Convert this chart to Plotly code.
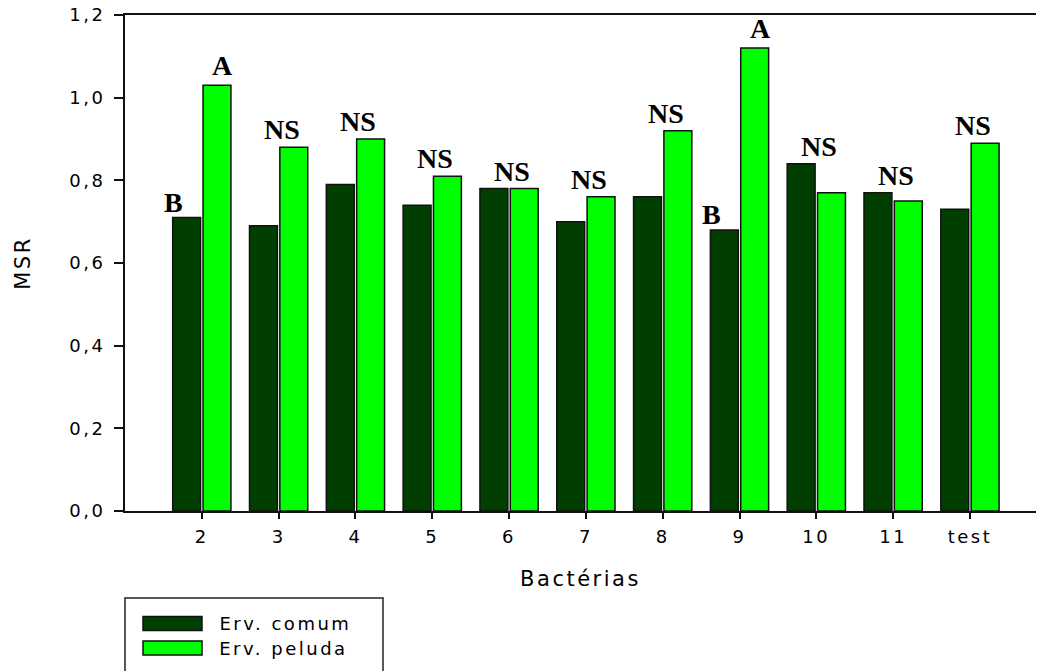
import plotly.graph_objects as go

categories = ["2", "3", "4", "5", "6", "7", "8", "9", "10", "11", "test"]
erv_comum = [0.71, 0.69, 0.79, 0.74, 0.78, 0.70, 0.76, 0.68, 0.84, 0.77, 0.73]
erv_peluda = [1.03, 0.88, 0.90, 0.81, 0.78, 0.76, 0.92, 1.12, 0.77, 0.75, 0.89]
series_names = ["Erv. comum", "Erv. peluda"]
series_colors = ["#003F00", "#00FF00"]
sig_group = ["", "NS", "NS", "NS", "NS", "NS", "NS", "", "NS", "NS", "NS"]
sig_comum = ["B", "", "", "", "", "", "", "B", "", "", ""]
sig_peluda = ["A", "", "", "", "", "", "", "A", "", "", ""]
y_ticks = [0.0, 0.2, 0.4, 0.6, 0.8, 1.0, 1.2]

xpos = list(range(len(categories)))
W, H = 1037, 671
ML, MR, MT, MB = 125, 1, 15, 160
SANS = "DejaVu Sans, Arial, sans-serif"
SPACING = 2.5

fig = go.Figure()
for name, vals, col in zip(series_names, [erv_comum, erv_peluda], series_colors):
    fig.add_trace(go.Bar(x=xpos, y=vals, name=name, marker=dict(color=col, line=dict(color="#111111", width=1.5)),
                         showlegend=False))

afont = dict(family="Liberation Serif, Times New Roman, serif", size=28, color="black")
for i in xpos:
    if sig_group[i]:
        fig.add_annotation(x=i, y=max(erv_comum[i], erv_peluda[i]), text="<b>%s</b>" % sig_group[i],
                           showarrow=False, yanchor="bottom", xshift=3, yshift=0, font=afont)
    if sig_comum[i]:
        fig.add_annotation(x=i - 0.21, y=erv_comum[i], text="<b>%s</b>" % sig_comum[i],
                           showarrow=False, yanchor="bottom", xshift=-12, yshift=-2, font=afont)
    if sig_peluda[i]:
        fig.add_annotation(x=i + 0.21, y=erv_peluda[i], text="<b>%s</b>" % sig_peluda[i],
                           showarrow=False, yanchor="bottom", xshift=5, yshift=2, font=afont)

pw = W - ML - MR
ph = H - MT - MB
def px_x(p):
    return (p - ML) / pw
def px_y(p):
    return (H - MB - p) / ph

fig.add_shape(type="rect", xref="paper", yref="paper", x0=px_x(125), x1=px_x(383), y0=px_y(690), y1=px_y(598),
              line=dict(color="#222222", width=1.5), fillcolor="white")
row_y = [623.5, 648]
for name, col, ry in zip(series_names, series_colors, row_y):
    fig.add_shape(type="rect", xref="paper", yref="paper", x0=px_x(143), x1=px_x(202), y0=px_y(ry + 7), y1=px_y(ry - 7),
                  line=dict(color="#111111", width=1.5), fillcolor=col)
    fig.add_annotation(xref="paper", yref="paper", x=px_x(217), y=px_y(ry), text=name, showarrow=False,
                       xanchor="left", yanchor="middle", xshift=len(name) * SPACING / 2,
                       font=dict(family=SANS, size=18, color="black"))

fig.update_layout(
    width=W, height=H,
    margin=dict(l=ML, r=MR, t=MT, b=MB, autoexpand=False),
    plot_bgcolor="white", paper_bgcolor="white",
    barmode="group", bargap=0.21, bargroupgap=0.08,
    separators=",.",
    font=dict(family=SANS, size=16, color="black"),
    xaxis=dict(range=[-1.0, 10.86], tickvals=xpos, ticktext=categories, showgrid=False, zeroline=False,
               showline=True, linecolor="#111111", linewidth=2, mirror=True, automargin=False,
               ticks="outside", ticklen=6, tickwidth=1.5, tickcolor="#111111",
               tickfont=dict(size=18), ticklabelstandoff=2,
               title=dict(text="Bactérias", font=dict(size=21), standoff=26)),
    yaxis=dict(range=[0, 1.2], tickvals=y_ticks, tickformat=".1f", showgrid=False, zeroline=False,
               showline=True, linecolor="#111111", linewidth=2, automargin=False,
               ticks="outside", ticklen=9, tickwidth=1.5, tickcolor="#111111",
               tickfont=dict(size=18), ticklabelstandoff=5,
               title=dict(text="MSR", font=dict(size=21), standoff=40)),
)

post = """
document.body.style.margin='0';document.body.style.padding='0';document.body.style.overflow='hidden';
document.querySelectorAll('.main-svg text').forEach(function(t){
  var f = t.style.fontFamily || '';
  if (f.indexOf('Serif') < 0) { t.style.letterSpacing = '%spx'; }
});
""" % SPACING
fig.write_html("out.html", config={"displayModeBar": False}, post_script=post)
